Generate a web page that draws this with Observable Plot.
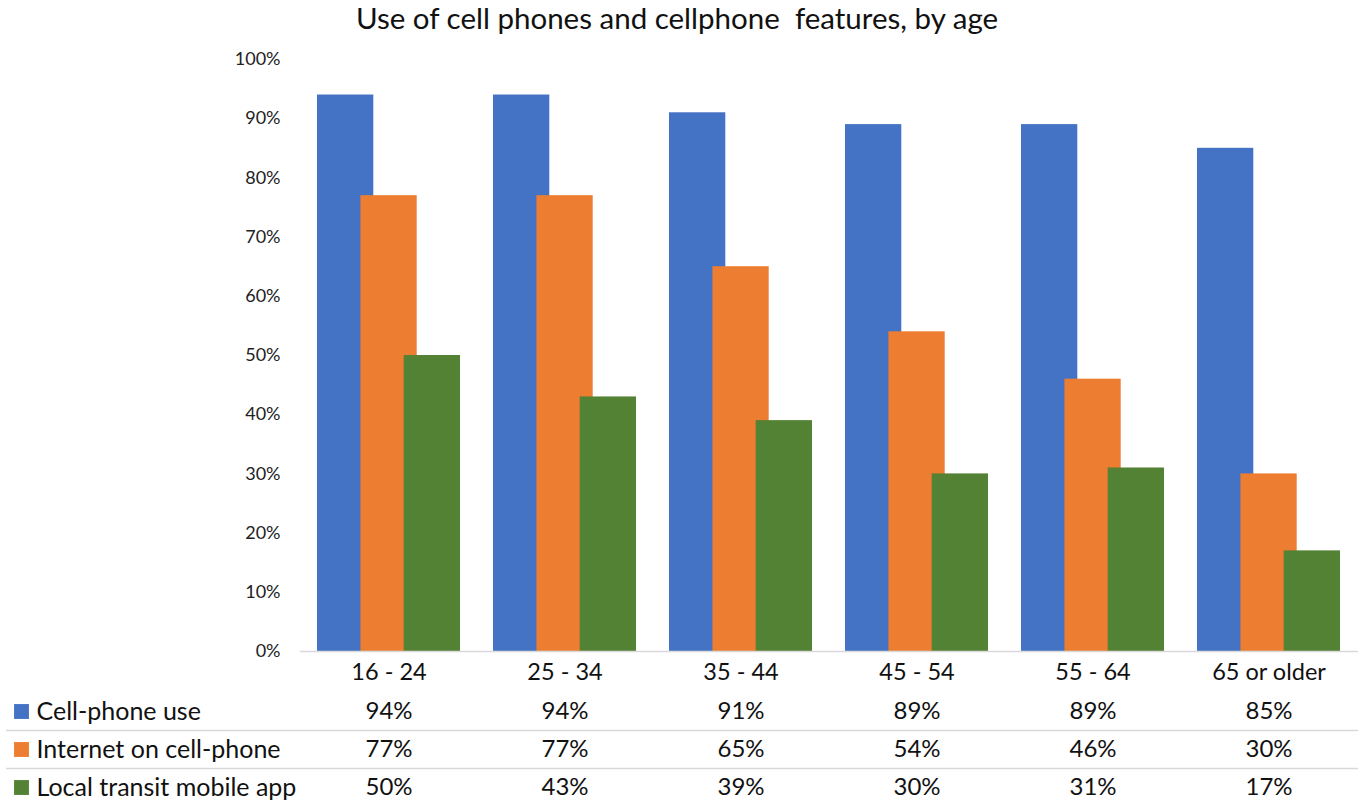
<!DOCTYPE html>
<html>
<head>
<meta charset="utf-8">
<script src="https://cdn.jsdelivr.net/npm/d3@7"></script>
<script src="https://cdn.jsdelivr.net/npm/@observablehq/plot@0.6"></script>
<style>
  html, body { margin: 0; padding: 0; background: #fff; }
  body { width: 1366px; height: 810px; overflow: hidden; position: relative; font-family: Lato, sans-serif; }
  #title { position: absolute; top: 0px; left: -6px; width: 1366px; text-align: center; font-size: 29.5px; color: #111; white-space: pre; line-height: 36px; }
  #chart { position: absolute; top: 40px; left: 0; }
  #table { position: absolute; top: 690px; left: 0; }
</style>
</head>
<body>
<div id="title">Use of cell phones and cellphone  features, by age</div>
<div id="chart"></div>
<div id="table"></div>
<script>
const ages = ["16 - 24", "25 - 34", "35 - 44", "45 - 54", "55 - 64", "65 or older"];
const seriesNames = ["Cell-phone use", "Internet on cell-phone", "Local transit mobile app"];
const cellPhoneUse = [94, 94, 91, 89, 89, 85];
const internetOnCellPhone = [77, 77, 65, 54, 46, 30];
const localTransitApp = [50, 43, 39, 30, 31, 17];
const seriesColors = ["#4472C4", "#ED7D31", "#548235"];
const yTicks = [0, 10, 20, 30, 40, 50, 60, 70, 80, 90, 100];

const seriesValues = [cellPhoneUse, internetOnCellPhone, localTransitApp];
const rows = seriesNames.flatMap((s, si) => ages.map((a, ai) => ({series: s, age: a, value: seriesValues[si][ai]})));
const bySeries = s => rows.filter(d => d.series === s);
const colorOf = s => seriesColors[seriesNames.indexOf(s)];

const xScale = {type: "band", domain: ages, paddingInner: 0.185, paddingOuter: 0.0925};

const chart = Plot.plot({
  width: 1366,
  height: 650,
  marginLeft: 300,
  marginRight: 8,
  marginTop: 19,
  marginBottom: 39,
  style: {fontFamily: "Lato, sans-serif", background: "#fff"},
  x: {...xScale, label: null},
  y: {domain: [0, 100], label: null},
  marks: [
    Plot.barY(bySeries(seriesNames[0]), {x: "age", y: "value", fill: seriesColors[0], insetLeft: 0, insetRight: 86.7}),
    Plot.barY(bySeries(seriesNames[1]), {x: "age", y: "value", fill: seriesColors[1], insetLeft: 43.4, insetRight: 43.3}),
    Plot.barY(bySeries(seriesNames[2]), {x: "age", y: "value", fill: seriesColors[2], insetLeft: 86.7, insetRight: 0}),
    Plot.ruleY([0], {stroke: "#d9d9d9", strokeWidth: 1.5}),
    Plot.axisY({ticks: yTicks, tickFormat: d => d + "%", tickSize: 0, tickPadding: 20, fontSize: 18, fill: "#222", label: null}),
    Plot.axisX({tickSize: 0, tickPadding: 12, fontSize: 23.5, fill: "#111", label: null})
  ]
});
document.getElementById("chart").appendChild(chart);

const table = Plot.plot({
  width: 1366,
  height: 120,
  marginLeft: 6,
  marginRight: 8,
  marginTop: 2,
  marginBottom: 4,
  style: {fontFamily: "Lato, sans-serif", background: "#fff"},
  x: {...xScale, range: [300, 1358], axis: null},
  y: {type: "band", domain: seriesNames, padding: 0, axis: null},
  marks: [
    Plot.ruleY(seriesNames.slice(0, 2), {y: d => d, dy: 19, stroke: "#d9d9d9", strokeWidth: 1.5}),
    Plot.dot(seriesNames, {y: d => d, frameAnchor: "left", dx: 15, symbol: "square", r: 8.4, fill: d => colorOf(d), stroke: "none"}),
    Plot.text(seriesNames, {y: d => d, text: d => d, frameAnchor: "left", dx: 30, textAnchor: "start", fontSize: 25, fill: "#111"}),
    Plot.text(rows, {x: "age", y: "series", text: d => d.value + "%", fontSize: 24, fill: "#111"})
  ]
});
document.getElementById("table").appendChild(table);
</script>
</body>
</html>
